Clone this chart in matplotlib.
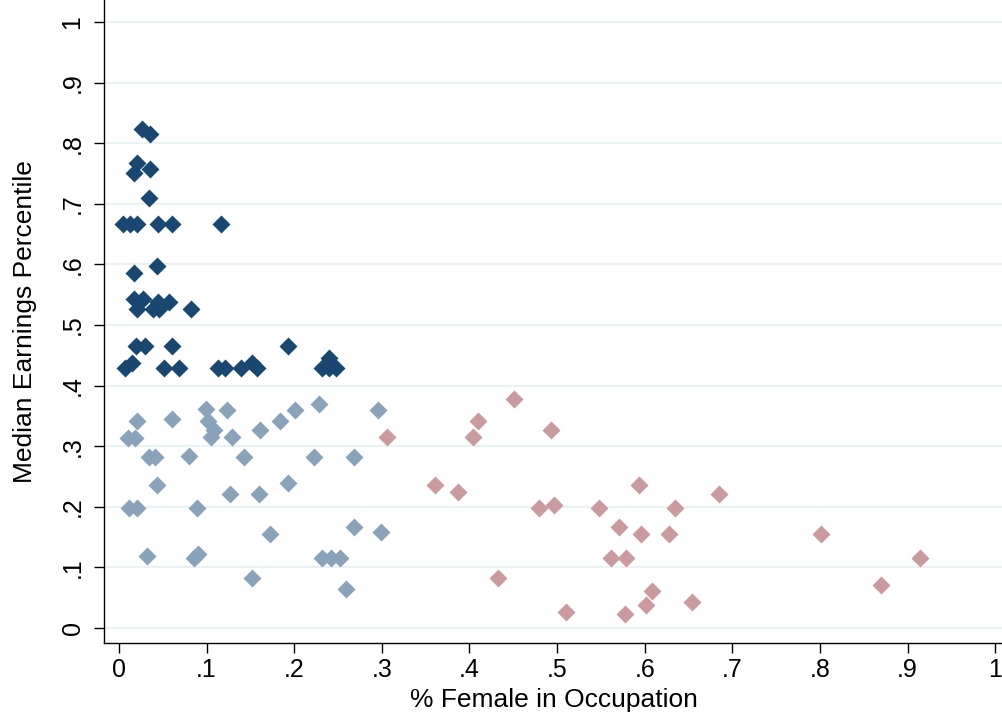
import matplotlib
matplotlib.use("Agg")
import matplotlib.pyplot as plt
import numpy as np

plt.rcParams['font.family'] = ['Liberation Sans', 'DejaVu Sans']

# High-earning, male-dominated occupations (dark navy)
high_x = [0.026, 0.035, 0.021, 0.017, 0.035, 0.034,
          0.005, 0.013, 0.021, 0.044, 0.060, 0.116,
          0.017, 0.043, 0.017, 0.027, 0.021, 0.044, 0.039, 0.046, 0.057, 0.082,
          0.019, 0.030, 0.060, 0.007, 0.015, 0.051, 0.068,
          0.113, 0.121, 0.139, 0.152, 0.158, 0.193,
          0.232, 0.240, 0.248, 0.240]
high_y = [0.823, 0.815, 0.767, 0.751, 0.757, 0.710,
          0.667, 0.667, 0.667, 0.667, 0.667, 0.667,
          0.586, 0.597, 0.543, 0.543, 0.526, 0.538, 0.526, 0.526, 0.538, 0.526,
          0.465, 0.465, 0.465, 0.429, 0.437, 0.429, 0.429,
          0.429, 0.429, 0.429, 0.437, 0.429, 0.465,
          0.429, 0.429, 0.429, 0.445]

# Lower-earning, male-dominated occupations (light blue)
mid_x = [0.020, 0.010, 0.018, 0.060, 0.099, 0.102, 0.108, 0.105, 0.123, 0.129,
         0.161, 0.184, 0.201, 0.228, 0.296,
         0.034, 0.041, 0.080, 0.143, 0.223, 0.268,
         0.043, 0.127, 0.160, 0.193,
         0.012, 0.021, 0.089,
         0.172, 0.268, 0.299,
         0.032, 0.086, 0.090, 0.232, 0.242, 0.252,
         0.152, 0.259]
mid_y = [0.342, 0.314, 0.314, 0.345, 0.361, 0.342, 0.327, 0.315, 0.360, 0.315,
         0.327, 0.342, 0.360, 0.370, 0.360,
         0.282, 0.282, 0.284, 0.282, 0.282, 0.282,
         0.236, 0.221, 0.221, 0.239,
         0.198, 0.198, 0.198,
         0.155, 0.167, 0.158,
         0.119, 0.116, 0.122, 0.116, 0.116, 0.116,
         0.083, 0.064]

# Female-dominated / mixed occupations (pink)
low_x = [0.306, 0.410, 0.404, 0.451, 0.493,
         0.361, 0.387, 0.479, 0.497, 0.548,
         0.571, 0.594, 0.685, 0.635, 0.596, 0.628, 0.801,
         0.562, 0.579, 0.914, 0.433, 0.870,
         0.608, 0.602, 0.654, 0.510, 0.578]
low_y = [0.315, 0.342, 0.315, 0.378, 0.327,
         0.236, 0.224, 0.198, 0.203, 0.198,
         0.167, 0.236, 0.221, 0.198, 0.155, 0.155, 0.155,
         0.116, 0.116, 0.116, 0.083, 0.071,
         0.061, 0.038, 0.043, 0.026, 0.023]

tick_vals = [0, 0.1, 0.2, 0.3, 0.4, 0.5, 0.6, 0.7, 0.8, 0.9, 1.0]
tick_labels = ["0", ".1", ".2", ".3", ".4", ".5", ".6", ".7", ".8", ".9", "1"]

W, H = 1003, 717
fig = plt.figure(figsize=(W / 100, H / 100), dpi=100)
ax = fig.add_axes([104 / W, (H - 643) / H, (W - 104) / W, 643 / H])

ms = 9
ax.plot(mid_x, mid_y, 'D', color='#8aa3bb', ms=ms, mec='none', zorder=3)
ax.plot(low_x, low_y, 'D', color='#c99a9e', ms=ms, mec='none', zorder=3)
ax.plot(high_x, high_y, 'D', color='#1a476f', ms=ms, mec='none', zorder=4)

ax.set_xlim(-0.0171, 1.009)
ax.set_ylim(-0.0248, 1.0363)

ax.set_xticks(tick_vals)
ax.set_xticklabels(tick_labels, fontsize=18)
ax.set_yticks(tick_vals)
ax.set_yticklabels(tick_labels, fontsize=18, rotation=90, va='center')

for v in tick_vals:
    ax.axhline(v, color='#eaf2f3', lw=1.6, zorder=1)

for s in ['top', 'right']:
    ax.spines[s].set_visible(False)
for s in ['left', 'bottom']:
    ax.spines[s].set_linewidth(1.0)
    ax.spines[s].set_color('black')

ax.tick_params(axis='both', direction='out', length=7, width=1.0, colors='black')
ax.tick_params(axis='x', pad=4)
ax.tick_params(axis='y', pad=7)

ax.set_xlabel('% Female in Occupation', fontsize=19, labelpad=4)
ax.set_ylabel('Median Earnings Percentile', fontsize=19, labelpad=17)

fig.savefig('out.png', dpi=100)
